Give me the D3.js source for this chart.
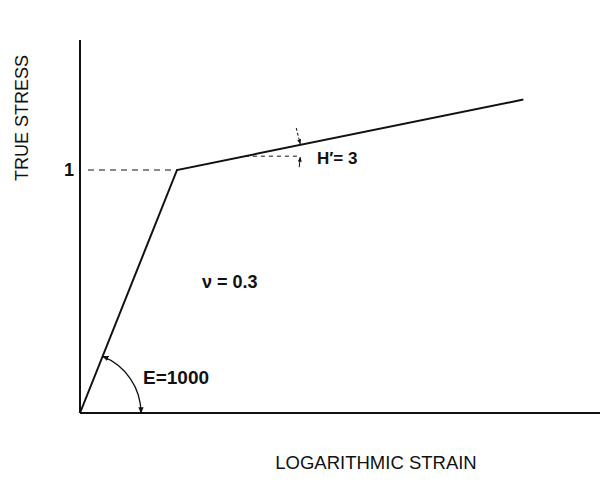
<!DOCTYPE html>
<html>
<head>
<meta charset="utf-8">
<script src="https://cdn.jsdelivr.net/npm/d3@7"></script>
<style>
  html, body { margin: 0; padding: 0; background: #fff; }
  svg { display: block; }
  text { font-family: "Liberation Sans", Arial, sans-serif; fill: #111; }
</style>
</head>
<body>
<svg id="chart" width="600" height="485"></svg>
<script>
// Bilinear stress–strain curve (schematic, strain in units of 1e-3)
const strain = [0, 1.0, 4.57];
const stress = [0, 1.0, 1.29];
const yTicks = [1];
const xLabel = "LOGARITHMIC STRAIN";
const yLabel = "TRUE STRESS";
const modulusLabel = "E=1000";
const hardeningLabel = "H\u2032= 3";
const poissonLabel = "\u03BD = 0.3";

const svg = d3.select("#chart");
const W = 600, H = 485;
const m = { left: 80, right: 0, top: 40, bottom: 72 };

const x = d3.scaleLinear().domain([0, 5.36]).range([m.left, W - m.right]);
const y = d3.scaleLinear().domain([0, 1.535]).range([H - m.bottom, m.top]);

// arrow marker
const defs = svg.append("defs");
defs.append("marker")
  .attr("id", "arr")
  .attr("viewBox", "0 0 10 10")
  .attr("refX", 9).attr("refY", 5)
  .attr("markerWidth", 5).attr("markerHeight", 5)
  .attr("orient", "auto-start-reverse")
  .append("path").attr("d", "M0,1 L10,5 L0,9 Z").attr("fill", "#111");

// axes (plain lines, no ticks)
svg.append("line")
  .attr("x1", x(0)).attr("x2", x(0))
  .attr("y1", y(0)).attr("y2", y(1.535))
  .attr("stroke", "#111").attr("stroke-width", 2);
svg.append("line")
  .attr("x1", x(0)).attr("x2", x(5.36))
  .attr("y1", y(0)).attr("y2", y(0))
  .attr("stroke", "#111").attr("stroke-width", 2);

// y tick label and dashed guide to the yield point
svg.selectAll(".ytick").data(yTicks).enter().append("text")
  .attr("class", "ytick")
  .attr("x", x(0) - 6).attr("y", d => y(d))
  .attr("dy", "0.36em")
  .attr("text-anchor", "end")
  .attr("font-size", 18).attr("font-weight", "bold")
  .text(d => d);
svg.selectAll(".yguide").data(yTicks).enter().append("line")
  .attr("x1", x(0) + 8).attr("x2", x(strain[1]))
  .attr("y1", d => y(d)).attr("y2", d => y(d))
  .attr("stroke", "#111").attr("stroke-width", 1.2)
  .attr("stroke-dasharray", "6,5");

// curve
const pts = strain.map((s, i) => [s, stress[i]]);
svg.append("path")
  .datum(pts)
  .attr("d", d3.line().x(d => x(d[0])).y(d => y(d[1])))
  .attr("fill", "none").attr("stroke", "#111").attr("stroke-width", 2);

// modulus arc between strain axis and elastic branch
const cx = x(0), cy = y(0), r = 61;
const ang = Math.atan2(y(0) - y(stress[1]), x(strain[1]) - x(0));
const arcPath = d3.path();
arcPath.moveTo(cx + r * Math.cos(ang), cy - r * Math.sin(ang));
arcPath.arc(cx, cy, r, -ang, 0, false);
svg.append("path")
  .attr("d", arcPath.toString())
  .attr("fill", "none").attr("stroke", "#111").attr("stroke-width", 1.3)
  .attr("marker-start", "url(#arr)")
  .attr("marker-end", "url(#arr)");
svg.append("text")
  .attr("x", 143).attr("y", 384)
  .attr("font-size", 19).attr("font-weight", "bold")
  .text(modulusLabel);

// hardening slope marker
const slope = (stress[2] - stress[1]) / (strain[2] - strain[1]);
const sA = 1.70, sB = 2.27;
const yA = stress[1] + slope * (sA - strain[1]);
const yB = stress[1] + slope * (sB - strain[1]);
svg.append("line")
  .attr("x1", x(sA)).attr("x2", x(sB) - 2)
  .attr("y1", y(yA)).attr("y2", y(yA))
  .attr("stroke", "#111").attr("stroke-width", 1)
  .attr("stroke-dasharray", "4,4");
svg.append("line")
  .attr("x1", x(sB) - 4).attr("y1", y(yB) - 17)
  .attr("x2", x(sB)).attr("y2", y(yB) - 1)
  .attr("stroke", "#111").attr("stroke-width", 1)
  .attr("stroke-dasharray", "3,2")
  .attr("marker-end", "url(#arr)");
svg.append("line")
  .attr("x1", x(sB) - 1).attr("y1", y(yA) + 11)
  .attr("x2", x(sB)).attr("y2", y(yA) + 1)
  .attr("stroke", "#111").attr("stroke-width", 1)
  .attr("marker-end", "url(#arr)");
svg.append("text")
  .attr("x", 317).attr("y", 164)
  .attr("font-size", 17).attr("font-weight", "bold")
  .text(hardeningLabel);

// Poisson's ratio
svg.append("text")
  .attr("x", 202).attr("y", 288)
  .attr("font-size", 18).attr("font-weight", "bold")
  .text(poissonLabel);

// axis titles
svg.append("text")
  .attr("x", 376).attr("y", 469)
  .attr("text-anchor", "middle")
  .attr("font-size", 18.5)
  .text(xLabel);
svg.append("text")
  .attr("transform", "translate(28,118) rotate(-90)")
  .attr("text-anchor", "middle")
  .attr("font-size", 18)
  .text(yLabel);
</script>
</body>
</html>
